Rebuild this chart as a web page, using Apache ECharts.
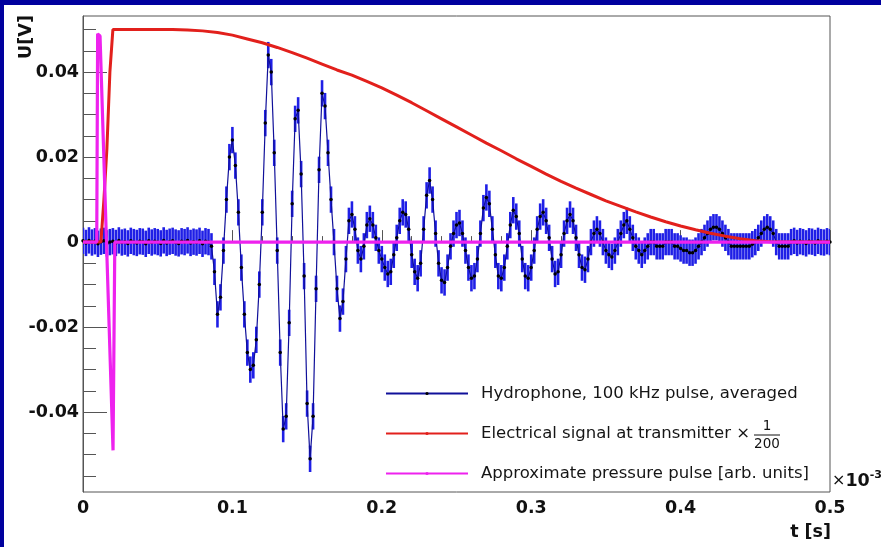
<!DOCTYPE html>
<html>
<head>
<meta charset="utf-8">
<script src="https://cdn.jsdelivr.net/npm/echarts@6/dist/echarts.min.js"></script>
<style>
  html, body { margin: 0; padding: 0; background: #fff; overflow: hidden; }
  #chart { width: 881px; height: 547px; }
</style>
</head>
<body>
<div id="chart"></div>
<script>
// Hydrophone trace, averaged, sampled every 2 us (time axis in units of 1e-3 s)
const hydroStart = 0;
const hydroStep = 0.002;
const hydroError = 0.0031;
const hydroValues = [
  0.0003,-0.0002,0.0004,-0.0001,0.0002,-0.0004,0.0001,0.0003,-0.0003,0.0000,
  0.0002,-0.0002,0.0004,-0.0001,0.0001,-0.0003,0.0003,0.0000,-0.0002,0.0002,
  0.0001,-0.0004,0.0003,-0.0001,0.0002,0.0000,-0.0003,0.0004,-0.0002,0.0001,
  0.0003,-0.0001,-0.0003,0.0002,0.0000,0.0004,-0.0002,0.0001,-0.0001,0.0003,
  -0.0004,0.0002,0.0000,-0.001,-0.007,-0.017,-0.013,-0.002,0.010,0.020,
  0.024,0.018,0.007,-0.006,-0.017,-0.026,-0.030,-0.029,-0.023,-0.010,
  0.007,0.028,0.044,0.040,0.021,-0.002,-0.026,-0.044,-0.041,-0.019,
  0.009,0.029,0.031,0.016,-0.008,-0.038,-0.051,-0.041,-0.011,0.017,
  0.035,0.032,0.021,0.010,0.000,-0.011,-0.018,-0.014,-0.004,0.005,
  0.0065,0.003,-0.002,-0.004,-0.001,0.004,0.0055,0.004,0.001,-0.002,
  -0.004,-0.006,-0.0075,-0.007,-0.003,0.001,0.005,0.007,0.0065,0.003,
  -0.003,-0.007,-0.0085,-0.005,0.003,0.011,0.0145,0.010,0.002,-0.005,
  -0.009,-0.0095,-0.006,-0.001,0.002,0.004,0.0045,0.002,-0.002,-0.006,
  -0.0085,-0.008,-0.004,0.002,0.008,0.0105,0.009,0.003,-0.003,-0.008,
  -0.0085,-0.006,-0.001,0.004,0.0075,0.006,0.002,-0.004,-0.008,-0.0085,
  -0.006,-0.002,0.003,0.006,0.007,0.005,0.001,-0.004,-0.0075,-0.007,
  -0.003,0.002,0.005,0.0065,0.005,0.001,-0.003,-0.006,-0.0065,-0.004,
  0.000,0.002,0.003,0.002,0.000,-0.002,-0.003,-0.0035,-0.002,0.000,
  0.002,0.004,0.005,0.003,0.001,-0.001,-0.002,-0.003,-0.002,-0.001,
  0.000,0.000,-0.001,-0.001,-0.001,0.000,0.000,0.000,-0.001,-0.001,
  -0.0015,-0.002,-0.002,-0.0025,-0.0025,-0.002,-0.001,0.000,0.001,0.002,
  0.003,0.0035,0.0035,0.003,0.002,0.001,0.000,-0.001,-0.001,-0.001,
  -0.001,-0.001,-0.001,-0.001,-0.0005,0.000,0.001,0.002,0.003,0.0035,
  0.003,0.002,0.000,-0.001,-0.001,-0.001,-0.001,0.000,0.0003,-0.0002,
  0.0002,0.0000,-0.0003,0.0002,0.0001,-0.0002,0.0003,0.0000,-0.0001,0.0002,
  0.0000
];

// Transmitter voltage scaled by 1/200
const elecTime = [0, 0.012, 0.014, 0.016, 0.018, 0.020, 0.030, 0.040, 0.050, 0.060,
  0.070, 0.080, 0.090, 0.100, 0.110, 0.120, 0.130, 0.140, 0.150, 0.160,
  0.170, 0.180, 0.190, 0.200, 0.210, 0.220, 0.230, 0.240, 0.250, 0.260,
  0.270, 0.280, 0.290, 0.300, 0.310, 0.320, 0.330, 0.340, 0.350, 0.360,
  0.370, 0.380, 0.390, 0.400, 0.410, 0.420, 0.430, 0.440, 0.450, 0.460, 0.500];
const elecValues = [0, 0, 0.010, 0.022, 0.040, 0.0500, 0.0500, 0.0500, 0.0500, 0.0500,
  0.0499, 0.0497, 0.0493, 0.0487, 0.0478, 0.0469, 0.0458, 0.0446, 0.0433, 0.0419,
  0.0405, 0.0393, 0.0378, 0.0363, 0.0346, 0.0328, 0.0309, 0.0290, 0.0271, 0.0252,
  0.0233, 0.0215, 0.0196, 0.0178, 0.0160, 0.0143, 0.0127, 0.0112, 0.0097, 0.0084,
  0.0071, 0.0059, 0.0048, 0.0038, 0.0029, 0.0021, 0.0014, 0.0008, 0.0003, 0.0001, 0];

// Approximate pressure pulse (arbitrary units)
const pulseTime = [0, 0.0092, 0.0098, 0.0114, 0.0201, 0.0213, 0.500];
const pulseValues = [0, 0, 0.049, 0.0485, -0.049, 0, 0];

const seriesNames = [
  'Hydrophone, 100 kHz pulse, averaged',
  'Electrical signal at transmitter \u00d7',
  'Approximate pressure pulse [arb. units]'
];

const yMajorTicks = [-0.04, -0.02, 0, 0.02, 0.04];
const yMinorTicks = [-0.055, -0.05, -0.045, -0.035, -0.03, -0.025, -0.015, -0.01, -0.005,
  0.005, 0.01, 0.015, 0.025, 0.03, 0.035, 0.045, 0.05];

const hydroPoints = hydroValues.map((v, i) => [+(hydroStart + i * hydroStep).toFixed(4), v]);
const elecPoints = elecTime.map((t, i) => [t, elecValues[i]]);
const pulsePoints = pulseTime.map((t, i) => [t, pulseValues[i]]);

const FONT = 'DejaVu Sans';
const AXIS_COLOR = '#555';
const NAVY = '#00009e';
const Y_MIN = -0.0588, Y_MAX = 0.0532;

const chart = echarts.init(document.getElementById('chart'), null, { renderer: 'canvas' });

const labelStyle = { fontFamily: FONT, fontWeight: 'bold', fontSize: 17.5, color: '#111' };

chart.setOption({
  animation: false,
  backgroundColor: '#fff',
  grid: {
    left: 83, top: 16, right: 51, bottom: 55,
    show: true, backgroundColor: '#fff', borderColor: AXIS_COLOR, borderWidth: 1
  },
  xAxis: {
    type: 'value', min: 0, max: 0.5, interval: 0.1,
    axisLine: { show: true, lineStyle: { color: AXIS_COLOR, width: 1 } },
    axisTick: { show: true, inside: true, length: 12, lineStyle: { color: AXIS_COLOR } },
    minorTick: { show: true, splitNumber: 5, length: 6, lineStyle: { color: AXIS_COLOR } },
    splitLine: { show: false },
    axisLabel: Object.assign({ margin: 7, formatter: v => (v === 0 ? '0' : String(+v.toFixed(1))) }, labelStyle)
  },
  yAxis: [{
    type: 'value', min: Y_MIN, max: Y_MAX, position: 'left',
    axisLine: { show: true, onZero: false, lineStyle: { color: AXIS_COLOR, width: 1 } },
    axisTick: { show: true, inside: true, length: 24, customValues: yMajorTicks, lineStyle: { color: AXIS_COLOR } },
    splitLine: { show: false },
    axisLabel: Object.assign({ margin: 4, customValues: yMajorTicks,
      formatter: v => (Math.abs(v) < 1e-9 ? '0' : String(+v.toFixed(2))) }, labelStyle)
  }, {
    type: 'value', min: Y_MIN, max: Y_MAX, position: 'left',
    axisLine: { show: false },
    axisTick: { show: true, inside: true, length: 13, customValues: yMinorTicks, lineStyle: { color: AXIS_COLOR } },
    splitLine: { show: false },
    axisLabel: { show: false }
  }],
  legend: {
    orient: 'vertical', left: 380, top: 380,
    itemWidth: 82, itemHeight: 4, itemGap: 23,
    selectedMode: false,
    data: seriesNames,
    textStyle: { fontFamily: FONT, fontSize: 16.5, color: '#151515', padding: [0, 0, 0, 8] }
  },
  series: [
    {
      // vertical error bars of the hydrophone trace
      type: 'custom', name: 'errors', z: 2, clip: true,
      data: hydroPoints.map(p => [p[0], p[1], hydroError]),
      encode: { x: 0, y: 1 },
      renderItem: (params, api) => {
        const t = api.value(0), v = api.value(1), e = api.value(2);
        const a = api.coord([t, v - e]);
        const b = api.coord([t, v + e]);
        return {
          type: 'line',
          shape: { x1: a[0], y1: a[1], x2: b[0], y2: b[1] },
          style: { stroke: '#1f1fe6', lineWidth: 2.6 }
        };
      }
    },
    {
      type: 'line', name: seriesNames[0], z: 3,
      data: hydroPoints,
      symbol: 'circle', symbolSize: 3.5, showSymbol: true,
      itemStyle: { color: '#000' },
      lineStyle: { color: '#10109a', width: 1.2 }
    },
    {
      type: 'line', name: seriesNames[1], z: 4,
      data: elecPoints,
      symbol: 'circle', showSymbol: false,
      itemStyle: { color: '#e2201c' },
      lineStyle: { color: '#e2201c', width: 3 }
    },
    {
      type: 'line', name: seriesNames[2], z: 5,
      data: pulsePoints,
      symbol: 'circle', showSymbol: false,
      itemStyle: { color: '#ee22ee' },
      lineStyle: { color: '#ee22ee', width: 3.2 }
    }
  ],
  graphic: [
    // dark frame strips along the top and left edges
    { type: 'rect', z: 100, shape: { x: 0, y: 0, width: 881, height: 5 }, style: { fill: NAVY } },
    { type: 'rect', z: 100, shape: { x: 0, y: 0, width: 4, height: 547 }, style: { fill: NAVY } },
    {
      type: 'text', x: 26, y: 37, rotation: Math.PI / 2,
      style: { text: 'U[V]', font: 'bold 17.5px "DejaVu Sans"', fill: '#111', align: 'center', verticalAlign: 'middle' }
    },
    {
      type: 'text', x: 831, y: 532,
      style: { text: 't [s]', font: 'bold 17.5px "DejaVu Sans"', fill: '#111', align: 'right', verticalAlign: 'middle' }
    },
    {
      type: 'text', x: 832, y: 481,
      style: {
        text: '{m|\u00d7}{a|10}{s|-3}', verticalAlign: 'middle', align: 'left',
        rich: {
          m: { fontFamily: FONT, fontSize: 16, fill: '#111' },
          a: { fontFamily: FONT, fontWeight: 'bold', fontSize: 17.5, fill: '#111' },
          s: { fontFamily: FONT, fontWeight: 'bold', fontSize: 11, fill: '#111', padding: [0, 0, 12, 0] }
        }
      }
    },
    // fraction 1/200 following the transmitter legend entry
    {
      type: 'text', x: 767, y: 426,
      style: { text: '1', font: '13.5px "DejaVu Sans"', fill: '#111', align: 'center', verticalAlign: 'middle' }
    },
    { type: 'line', shape: { x1: 754, y1: 435, x2: 780, y2: 435 }, style: { stroke: '#111', lineWidth: 1 } },
    {
      type: 'text', x: 767, y: 444,
      style: { text: '200', font: '13.5px "DejaVu Sans"', fill: '#111', align: 'center', verticalAlign: 'middle' }
    }
  ]
});
</script>
</body>
</html>
